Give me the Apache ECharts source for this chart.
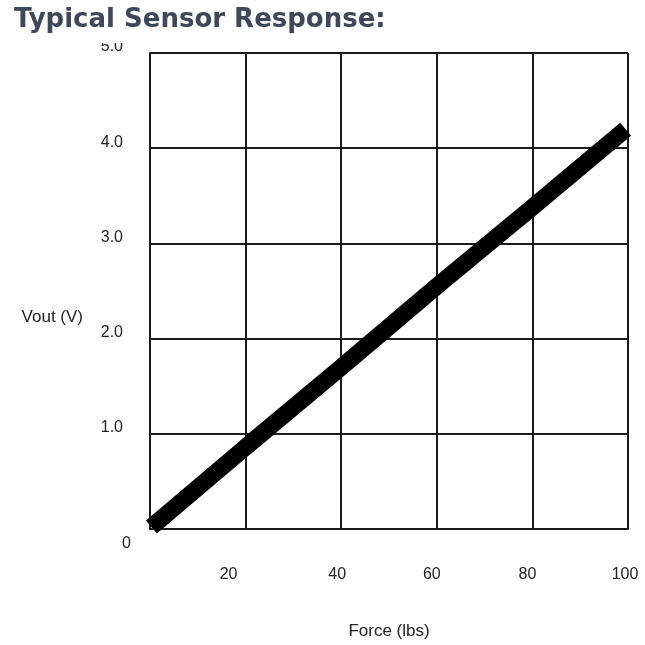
<!DOCTYPE html>
<html>
<head>
<meta charset="utf-8">
<script src="https://cdn.jsdelivr.net/npm/echarts@6/dist/echarts.min.js"></script>
<style>
html,body{margin:0;padding:0;background:#fff;}
#c{width:645px;height:645px;}
</style>
</head>
<body>
<div id="c"></div>
<script>
const titleText = 'Typical Sensor Response:';
const xName = 'Force (lbs)';
const yName = 'Vout (V)';
const forceLbs = [0.3, 20, 40, 60, 80, 99.5];
const voutV = [0.02, 0.86, 1.70, 2.55, 3.38, 4.20];
const xTicks = [0, 20, 40, 60, 80, 100];
const yTicks = [0, 1, 2, 3, 4, 5];

const points = forceLbs.map((f, i) => [f, voutV[i]]);
const font = '"Liberation Sans", Arial, sans-serif';
const lineColor = '#1a1a1a';

const chart = echarts.init(document.getElementById('c'), null, {renderer: 'canvas'});
chart.setOption({
  animation: false,
  backgroundColor: '#fff',
  title: {
    text: titleText,
    left: 0,
    top: 0,
    padding: [7, 10, 10, 14],
    backgroundColor: '#fff',
    textStyle: {
      fontFamily: '"DejaVu Sans", Verdana, sans-serif',
      fontWeight: 'bold',
      fontSize: 26,
      lineHeight: 26,
      color: '#3f4859'
    }
  },
  grid: {left: 150, right: 17, top: 53, bottom: 113, containLabel: false},
  xAxis: {
    type: 'value',
    min: xTicks[0],
    max: xTicks[xTicks.length - 1],
    interval: 20,
    name: xName,
    nameLocation: 'middle',
    nameGap: 94,
    nameTextStyle: {fontFamily: font, fontSize: 17, color: '#222'},
    axisLine: {show: true, lineStyle: {color: lineColor, width: 2}},
    axisTick: {show: false},
    splitLine: {show: true, lineStyle: {color: lineColor, width: 2}},
    axisLabel: {
      margin: 38,
      fontFamily: font,
      fontSize: 16,
      color: '#222',
      formatter: v => v === 0 ? '' : '{s' + v + '|' + v + '}',
      rich: {
        s20: {fontFamily: font, fontSize: 16, color: '#222', padding: [0, 34, 0, 0]},
        s40: {fontFamily: font, fontSize: 16, color: '#222', padding: [0, 8, 0, 0]},
        s60: {fontFamily: font, fontSize: 16, color: '#222', padding: [0, 10, 0, 0]},
        s80: {fontFamily: font, fontSize: 16, color: '#222', padding: [0, 10, 6, 0]},
        s100: {fontFamily: font, fontSize: 16, color: '#222', padding: [0, 6, 0, 0]}
      }
    }
  },
  yAxis: {
    type: 'value',
    min: yTicks[0],
    max: yTicks[yTicks.length - 1],
    interval: 1,
    name: yName,
    nameLocation: 'middle',
    nameRotate: 0,
    nameGap: 67,
    nameTextStyle: {fontFamily: font, fontSize: 17, color: '#222', verticalAlign: 'top', padding: [18, 0, 0, 0]},
    axisLine: {show: true, lineStyle: {color: lineColor, width: 2}},
    axisTick: {show: false},
    splitLine: {show: true, lineStyle: {color: lineColor, width: 2}},
    axisLabel: {
      margin: 19,
      fontFamily: font,
      fontSize: 16,
      color: '#222',
      formatter: v => v === 0 ? '{z|0}' : '{n|' + v.toFixed(1) + '}',
      rich: {
        n: {fontFamily: font, fontSize: 16, color: '#222', padding: [0, 8, 12, 0]},
        z: {fontFamily: font, fontSize: 16, color: '#222', padding: [30, 0, 0, 0]}
      }
    }
  },
  series: [{
    type: 'line',
    data: points,
    showSymbol: false,
    symbol: 'none',
    clip: false,
    lineStyle: {color: '#000', width: 17, cap: 'butt'}
  }]
});
</script>
</body>
</html>
